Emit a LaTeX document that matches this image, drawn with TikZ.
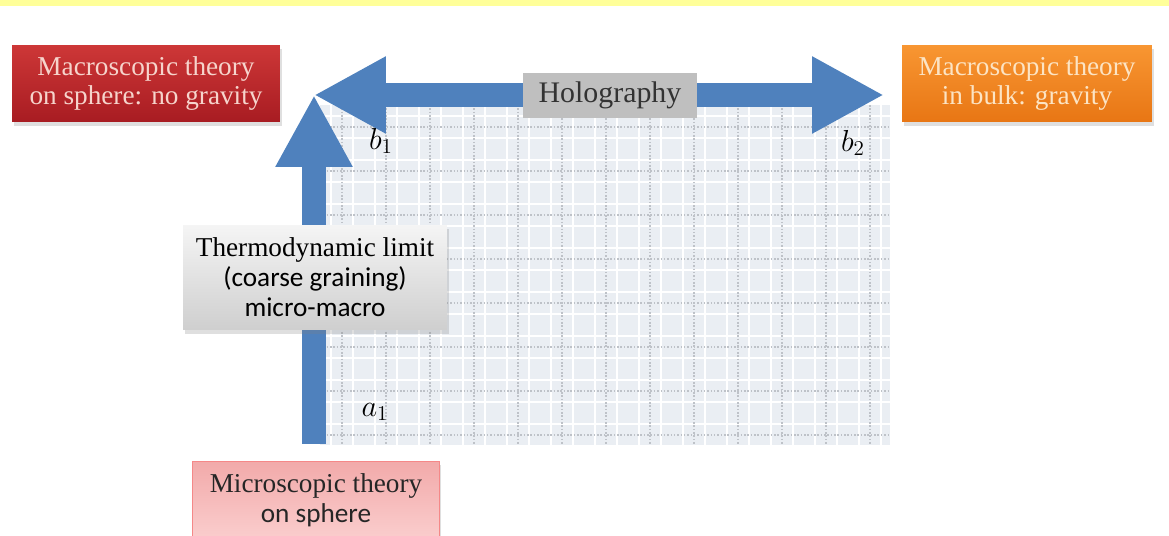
\documentclass[tikz,border=0pt]{standalone}
\usepackage{fontspec}
\setmainfont{Liberation Serif}
\newfontfamily\calib{Carlito}
\usetikzlibrary{arrows.meta,shadows}
\definecolor{arr}{RGB}{79,129,189}
\definecolor{rdt}{RGB}{205,55,55}
\definecolor{rdb}{RGB}{168,28,34}
\definecolor{ort}{RGB}{248,150,50}
\definecolor{orb}{RGB}{232,118,20}
\definecolor{pkt}{RGB}{250,205,205}
\definecolor{pkb}{RGB}{242,170,170}
\definecolor{band}{RGB}{255,255,153}
\definecolor{gbg}{RGB}{234,238,243}
\definecolor{gln}{RGB}{190,194,200}
\begin{document}
\begin{tikzpicture}[x=.02cm,y=-.02cm,
  every node/.style={font=\fontsize{15.5}{17}\selectfont,align=center,inner sep=0pt},
  bigarrow/.style={arr,line width=.48cm,-{Triangle[length=1.44cm,width=1.44cm]}},
  box/.style={minimum width=#1,minimum height=1.54cm,drop shadow={opacity=.25,shadow xshift=1pt,shadow yshift=-2pt}},
  lbl/.style={font=\fontsize{18}{18}\selectfont}]
\useasboundingbox (0,0) rectangle (1169,536);
\fill[band] (0,0) rectangle (1169,6);
% grid
\fill[gbg] (320,105) rectangle (890,445);
\foreach \x in {331,353,...,889}{\draw[white,line width=1.6pt] (\x,105)--(\x,445);}
\foreach \y in {116,138,...,444}{\draw[white,line width=1.6pt] (320,\y)--(890,\y);}
\foreach \x in {342,386,...,889}{\draw[gln,densely dotted,line width=.9pt] (\x,105)--(\x,445);}
\foreach \y in {127,171,...,444}{\draw[gln,densely dotted,line width=.9pt] (320,\y)--(890,\y);}
% arrows
\coordinate (corner) at (314,95);\coordinate (far) at (884,95);\coordinate (base) at (314,444);
\draw[bigarrow] (base)--(corner);
\draw[bigarrow,{Triangle[length=1.44cm,width=1.44cm]}-{Triangle[length=1.44cm,width=1.44cm]}] (corner)--(far);
\node[fill=gray!50,minimum width=3.48cm,minimum height=.9cm,text=black!80,font=\fontsize{17}{17}\selectfont] (holo) at (610,95.5) {Holography};
% boxes
\node[box=5.36cm,top color=rdt,bottom color=rdb,text={rgb,255:red,246;green,212;blue,204}] (sphmac) at (146,83.5) {Macroscopic theory\\on sphere: no gravity};
\node[box=5cm,top color=ort,bottom color=orb,text={rgb,255:red,252;green,228;blue,196}] (bulk) at (1027,83.5) {Macroscopic theory\\in bulk: gravity};
\node[box=5.28cm,minimum height=2.1cm,top color=gray!8,bottom color=gray!38,text=black] (thermo) at (315,277.5) {Thermodynamic limit\\{\calib (coarse graining)}\\{\calib micro-macro}};
\node[box=4.94cm,top color=pkb,bottom color=pkt,text=black!85,draw=pkb!80!red] (micro) at (316,500) {Microscopic theory\\{\calib on sphere}};
% labels
\node[lbl] (b1) at (381,141) {$b_1$};
\node[lbl] (b2) at (853,143) {$b_2$};
\node[lbl] (a1) at (375,412) {$a_1$};
\end{tikzpicture}
\end{document}
